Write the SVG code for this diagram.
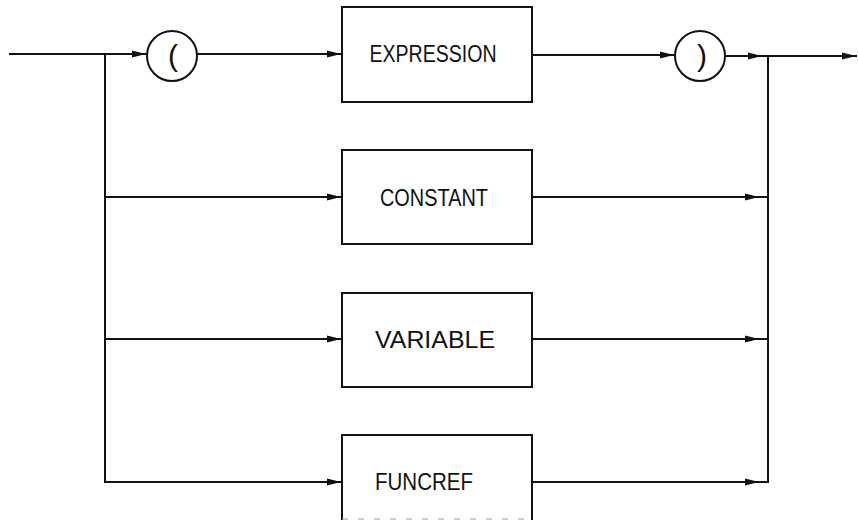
<svg xmlns="http://www.w3.org/2000/svg" width="858" height="527" viewBox="0 0 858 527">
  <style>
    .line { fill: none; stroke: #111; stroke-width: 2; stroke-linecap: square; }
    .box { fill: #fff; stroke: #111; stroke-width: 2; }
    .term { fill: #fff; stroke: #111; stroke-width: 2; }
    .label { font-family: "Liberation Sans", "DejaVu Sans", sans-serif; font-size: 23px; fill: #111; text-anchor: middle; }
    .paren { font-family: "Liberation Sans", "DejaVu Sans", sans-serif; font-size: 30px; fill: #111; text-anchor: middle; }
  </style>
  <defs>
    <marker id="arrow" markerUnits="userSpaceOnUse" markerWidth="16" markerHeight="10" refX="14" refY="5" orient="auto">
      <path d="M0,1.6 L14,5 L0,8.4 Z" fill="#111"/>
    </marker>
  </defs>
  <rect width="858" height="527" fill="#fff"/>

  <g id="connectors">
    <!-- entry into the open parenthesis -->
    <path class="line" d="M10,54 H146" marker-end="url(#arrow)"/>
    <path class="line" d="M198,54 H341" marker-end="url(#arrow)"/>
    <path class="line" d="M532,55 H674" marker-end="url(#arrow)"/>
    <path class="line" d="M725,56 H762" marker-end="url(#arrow)"/>
    <path class="line" d="M762,56 H856" marker-end="url(#arrow)"/>
    <!-- left fork -->
    <path class="line" d="M105,54 V482"/>
    <path class="line" d="M105,197 H341" marker-end="url(#arrow)"/>
    <path class="line" d="M105,339 H341" marker-end="url(#arrow)"/>
    <path class="line" d="M105,482 H341" marker-end="url(#arrow)"/>
    <!-- right join -->
    <path class="line" d="M768,56 V482"/>
    <path class="line" d="M532,197 H759" marker-end="url(#arrow)"/>
    <path class="line" d="M532,339 H759" marker-end="url(#arrow)"/>
    <path class="line" d="M532,482 H759" marker-end="url(#arrow)"/>
    <path class="line" d="M759,197 H768 M759,339 H768 M759,482 H768"/>
  </g>

  <g id="open-paren">
    <circle class="term" cx="172" cy="56" r="25"/>
    <text class="paren" x="173" y="66">(</text>
  </g>

  <g id="expression">
    <rect class="box" x="342" y="7" width="190" height="95"/>
    <text class="label" x="433" y="62" textLength="127" lengthAdjust="spacingAndGlyphs">EXPRESSION</text>
  </g>

  <g id="close-paren">
    <circle class="term" cx="700" cy="56" r="25"/>
    <text class="paren" x="702" y="66">)</text>
  </g>

  <g id="constant">
    <rect class="box" x="342" y="150" width="190" height="94"/>
    <text class="label" x="434" y="206" textLength="108" lengthAdjust="spacingAndGlyphs">CONSTANT</text>
  </g>

  <g id="variable">
    <rect class="box" x="342" y="293" width="190" height="94"/>
    <text class="label" x="435" y="348" textLength="120" lengthAdjust="spacingAndGlyphs">VARIABLE</text>
  </g>

  <g id="funcref">
    <path class="line" d="M342,519 V435 H532 V519"/>
    <path d="M342,519 H532" fill="none" stroke="#999" stroke-width="1" stroke-dasharray="6 10"/>
    <text class="label" x="424" y="490" textLength="98" lengthAdjust="spacingAndGlyphs">FUNCREF</text>
  </g>
</svg>
